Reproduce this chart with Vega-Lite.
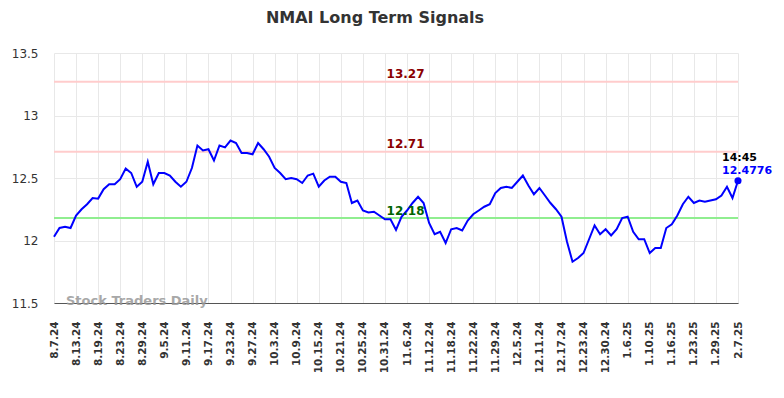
{
  "$schema": "https://vega.github.io/schema/vega-lite/v6.json",
  "width": 684,
  "height": 250,
  "autosize": {"type": "none"},
  "padding": {"left": 54, "top": 53, "right": 46, "bottom": 95},
  "background": "white",
  "title": {"text": "NMAI Long Term Signals", "anchor": "middle", "dx": -21, "offset": 21, "font": "DejaVu Sans", "fontSize": 16, "fontWeight": "bold", "color": "#333333"},
  "config": {"view": {"stroke": null}, "font": "DejaVu Sans"},
  "datasets": {
    "prices": [
      {"date":"8.7.24","v":12.03},{"date":"8.8.24","v":12.10},{"date":"8.9.24","v":12.11},{"date":"8.12.24","v":12.10},{"date":"8.13.24","v":12.20},
      {"date":"8.14.24","v":12.25},{"date":"8.15.24","v":12.29},{"date":"8.16.24","v":12.34},{"date":"8.19.24","v":12.335},{"date":"8.20.24","v":12.41},
      {"date":"8.21.24","v":12.45},{"date":"8.22.24","v":12.45},{"date":"8.23.24","v":12.49},{"date":"8.26.24","v":12.575},{"date":"8.27.24","v":12.54},
      {"date":"8.28.24","v":12.43},{"date":"8.29.24","v":12.47},{"date":"8.30.24","v":12.63},{"date":"9.3.24","v":12.45},{"date":"9.4.24","v":12.54},
      {"date":"9.5.24","v":12.54},{"date":"9.6.24","v":12.52},{"date":"9.9.24","v":12.47},{"date":"9.10.24","v":12.43},{"date":"9.11.24","v":12.47},
      {"date":"9.12.24","v":12.58},{"date":"9.13.24","v":12.76},{"date":"9.16.24","v":12.72},{"date":"9.17.24","v":12.73},{"date":"9.18.24","v":12.64},
      {"date":"9.19.24","v":12.76},{"date":"9.20.24","v":12.745},{"date":"9.23.24","v":12.80},{"date":"9.24.24","v":12.78},{"date":"9.25.24","v":12.70},
      {"date":"9.26.24","v":12.70},{"date":"9.27.24","v":12.69},{"date":"9.30.24","v":12.78},{"date":"10.1.24","v":12.73},{"date":"10.2.24","v":12.67},
      {"date":"10.3.24","v":12.58},{"date":"10.4.24","v":12.54},{"date":"10.7.24","v":12.49},{"date":"10.8.24","v":12.50},{"date":"10.9.24","v":12.49},
      {"date":"10.10.24","v":12.46},{"date":"10.11.24","v":12.52},{"date":"10.14.24","v":12.535},{"date":"10.15.24","v":12.43},{"date":"10.16.24","v":12.48},
      {"date":"10.17.24","v":12.51},{"date":"10.18.24","v":12.51},{"date":"10.21.24","v":12.47},{"date":"10.22.24","v":12.46},{"date":"10.23.24","v":12.30},
      {"date":"10.24.24","v":12.32},{"date":"10.25.24","v":12.24},{"date":"10.28.24","v":12.225},{"date":"10.29.24","v":12.23},{"date":"10.30.24","v":12.20},
      {"date":"10.31.24","v":12.17},{"date":"11.1.24","v":12.17},{"date":"11.4.24","v":12.085},{"date":"11.5.24","v":12.19},{"date":"11.6.24","v":12.24},
      {"date":"11.7.24","v":12.30},{"date":"11.8.24","v":12.35},{"date":"11.11.24","v":12.30},{"date":"11.12.24","v":12.14},{"date":"11.13.24","v":12.05},
      {"date":"11.14.24","v":12.07},{"date":"11.15.24","v":11.98},{"date":"11.18.24","v":12.09},{"date":"11.19.24","v":12.10},{"date":"11.20.24","v":12.08},
      {"date":"11.21.24","v":12.16},{"date":"11.22.24","v":12.21},{"date":"11.25.24","v":12.24},{"date":"11.26.24","v":12.27},{"date":"11.27.24","v":12.29},
      {"date":"11.29.24","v":12.38},{"date":"12.2.24","v":12.42},{"date":"12.3.24","v":12.43},{"date":"12.4.24","v":12.42},{"date":"12.5.24","v":12.47},
      {"date":"12.6.24","v":12.52},{"date":"12.9.24","v":12.44},{"date":"12.10.24","v":12.37},{"date":"12.11.24","v":12.42},{"date":"12.12.24","v":12.36},
      {"date":"12.13.24","v":12.30},{"date":"12.16.24","v":12.25},{"date":"12.17.24","v":12.19},{"date":"12.18.24","v":11.99},{"date":"12.19.24","v":11.83},
      {"date":"12.20.24","v":11.86},{"date":"12.23.24","v":11.90},{"date":"12.24.24","v":12.01},{"date":"12.26.24","v":12.12},{"date":"12.27.24","v":12.05},
      {"date":"12.30.24","v":12.09},{"date":"12.31.24","v":12.04},{"date":"1.2.25","v":12.09},{"date":"1.3.25","v":12.18},{"date":"1.6.25","v":12.19},
      {"date":"1.7.25","v":12.07},{"date":"1.8.25","v":12.01},{"date":"1.9.25","v":12.01},{"date":"1.10.25","v":11.90},{"date":"1.13.25","v":11.94},
      {"date":"1.14.25","v":11.94},{"date":"1.15.25","v":12.10},{"date":"1.16.25","v":12.13},{"date":"1.17.25","v":12.20},{"date":"1.21.25","v":12.29},
      {"date":"1.22.25","v":12.35},{"date":"1.23.25","v":12.30},{"date":"1.24.25","v":12.32},{"date":"1.27.25","v":12.31},{"date":"1.28.25","v":12.32},
      {"date":"1.29.25","v":12.33},{"date":"1.30.25","v":12.36},{"date":"1.31.25","v":12.43},{"date":"2.3.25","v":12.34},{"date":"2.7.25","v":12.4776}
    ],
    "upper": [{"level": 13.27}, {"level": 12.71}],
    "lower": [{"level": 12.18}]
  },
  "encoding": {
    "x": {
      "field": "date", "type": "ordinal", "sort": null,
      "scale": {"type": "point", "padding": 0},
      "axis": {
        "title": null,
        "values": ["8.7.24","8.13.24","8.19.24","8.23.24","8.29.24","9.5.24","9.11.24","9.17.24","9.23.24","9.27.24","10.3.24","10.9.24","10.15.24","10.21.24","10.25.24","10.31.24","11.6.24","11.12.24","11.18.24","11.22.24","11.29.24","12.5.24","12.11.24","12.17.24","12.23.24","12.30.24","1.6.25","1.10.25","1.16.25","1.23.25","1.29.25","2.7.25"],
        "labelAngle": -90, "labelFont": "DejaVu Sans", "labelFontSize": 10.5, "labelFontWeight": "bold", "labelColor": "#333333",
        "labelPadding": 18, "ticks": false, "grid": true, "gridColor": "#e8e8e8", "gridWidth": 1,
        "domainColor": "#555555", "domainWidth": 1, "labelOverlap": false
      }
    },
    "y": {
      "field": "v", "type": "quantitative",
      "scale": {"domain": [11.5, 13.5], "nice": false, "zero": false},
      "axis": {
        "title": null, "values": [11.5, 12, 12.5, 13, 13.5], "labelExpr": "toString(datum.value)",
        "labelFont": "DejaVu Sans", "labelFontSize": 12, "labelColor": "#333333", "labelPadding": 16,
        "ticks": false, "domain": false, "grid": true, "gridColor": "#e8e8e8", "gridWidth": 1
      }
    }
  },
  "layer": [
    {
      "data": {"name": "upper"},
      "mark": {"type": "rule", "color": "#ffcccc", "strokeWidth": 2},
      "encoding": {"x": null, "y": {"field": "level", "type": "quantitative"}}
    },
    {
      "data": {"name": "lower"},
      "mark": {"type": "rule", "color": "#90ee90", "strokeWidth": 2},
      "encoding": {"x": null, "y": {"field": "level", "type": "quantitative"}}
    },
    {
      "data": {"name": "prices"},
      "mark": {"type": "text", "text": "Stock Traders Daily", "align": "left", "baseline": "middle", "dx": 12, "dy": -2, "font": "DejaVu Sans", "fontSize": 13, "fontWeight": "bold", "color": "#999999", "opacity": 0.85},
      "transform": [{"filter": "datum.date == '8.7.24'"}],
      "encoding": {"y": {"datum": 11.5}}
    },
    {
      "data": {"name": "prices"},
      "mark": {"type": "line", "color": "#0000ff", "strokeWidth": 2}
    },
    {
      "data": {"name": "upper"},
      "mark": {"type": "text", "align": "center", "baseline": "alphabetic", "dx": 4, "dy": -3.5, "font": "DejaVu Sans", "fontSize": 12, "fontWeight": "bold", "color": "#8b0000"},
      "encoding": {"x": {"datum": "11.5.24"}, "y": {"field": "level", "type": "quantitative"}, "text": {"field": "level", "type": "quantitative", "format": ".2f"}}
    },
    {
      "data": {"name": "lower"},
      "mark": {"type": "text", "align": "center", "baseline": "alphabetic", "dx": 4, "dy": -3.5, "font": "DejaVu Sans", "fontSize": 12, "fontWeight": "bold", "color": "#006400"},
      "encoding": {"x": {"datum": "11.5.24"}, "y": {"field": "level", "type": "quantitative"}, "text": {"field": "level", "type": "quantitative", "format": ".2f"}}
    },
    {
      "data": {"name": "prices"},
      "transform": [{"filter": "datum.date == '2.7.25'"}],
      "mark": {"type": "point", "filled": true, "color": "#0000ff", "size": 50, "opacity": 1}
    },
    {
      "data": {"name": "prices"},
      "transform": [{"filter": "datum.date == '2.7.25'"}],
      "mark": {"type": "text", "text": "14:45", "align": "left", "baseline": "middle", "dx": -16, "dy": -23, "font": "DejaVu Sans", "fontSize": 11, "fontWeight": "bold", "color": "#000000"}
    },
    {
      "data": {"name": "prices"},
      "transform": [{"filter": "datum.date == '2.7.25'"}],
      "mark": {"type": "text", "align": "left", "baseline": "middle", "dx": -16, "dy": -10, "font": "DejaVu Sans", "fontSize": 11, "fontWeight": "bold", "color": "#0000ff"},
      "encoding": {"text": {"field": "v", "type": "quantitative", "format": ".4f"}}
    }
  ]
}
